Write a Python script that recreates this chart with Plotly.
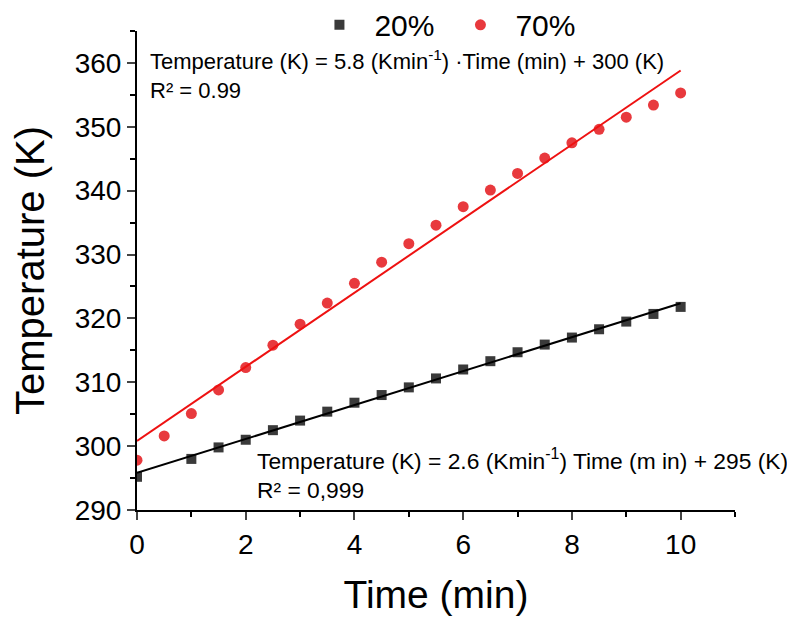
import numpy as np
import plotly.graph_objects as go

# ---- data ----
time_20 = [0, 1, 1.5, 2, 2.5, 3, 3.5, 4, 4.5, 5, 5.5, 6, 6.5, 7, 7.5, 8, 8.5, 9, 9.5, 10]
temp_20 = [295.2, 298.0, 299.8, 301.0, 302.5, 304.0, 305.4, 306.8, 308.0, 309.2,
           310.6, 312.0, 313.3, 314.7, 315.9, 317.0, 318.3, 319.5, 320.7, 321.8]

time_70 = [0, 0.5, 1, 1.5, 2, 2.5, 3, 3.5, 4, 4.5, 5, 5.5, 6, 6.5, 7, 7.5, 8, 8.5, 9, 9.5, 10]
temp_70 = [297.8, 301.6, 305.1, 308.8, 312.3, 315.8, 319.1, 322.4, 325.5, 328.8, 331.7,
           334.6, 337.5, 340.1, 342.7, 345.1, 347.5, 349.6, 351.5, 353.4, 355.3]

series_names = ["20%", "70%"]
x_ticks = [0, 2, 4, 6, 8, 10]
y_ticks = [290, 300, 310, 320, 330, 340, 350, 360]

eq_70 = "Temperature (K) = 5.8 (Kmin<sup>-1</sup>) \u00b7Time (min) + 300 (K)<br>R\u00b2 = 0.99"
eq_20 = "Temperature (K) = 2.6 (Kmin<sup>-1</sup>) Time (m in) + 295 (K)<br>R\u00b2 = 0,999"

# linear fits computed from the data
fit_x = [0, 10]
p20 = np.polyfit(time_20, temp_20, 1)
p70 = np.polyfit(time_70, temp_70, 1)
fit_20 = list(np.polyval(p20, fit_x))
fit_70 = list(np.polyval(p70, fit_x))

FONT = "Liberation Sans, Arial, sans-serif"

BLACK_M = "#3a3a3a"
RED_M = "#e8393d"

fig = go.Figure()
fig.add_trace(go.Scatter(x=time_20, y=temp_20, mode="markers", name=series_names[0],
                         marker=dict(symbol="square", size=10, color=BLACK_M)))
fig.add_trace(go.Scatter(x=time_70, y=temp_70, mode="markers", name=series_names[1],
                         marker=dict(symbol="circle", size=11, color=RED_M)))
fig.add_trace(go.Scatter(x=fit_x, y=fit_20, mode="lines", showlegend=False,
                         line=dict(color="#000000", width=2)))
fig.add_trace(go.Scatter(x=fit_x, y=fit_70, mode="lines", showlegend=False,
                         line=dict(color="#ee1111", width=2)))

fig.add_annotation(text=eq_70, xref="paper", yref="paper", x=0.0184, y=0.972,
                   xanchor="left", yanchor="top", align="left", showarrow=False,
                   font=dict(family=FONT, size=22, color="#000000"))
fig.add_annotation(text=eq_20, xref="paper", yref="paper", x=0.198, y=0.14,
                   xanchor="left", yanchor="top", align="left", showarrow=False,
                   font=dict(family=FONT, size=22.8, color="#000000"))

fig.update_layout(
    width=787, height=609,
    margin=dict(l=129, r=60, t=23, b=107, autoexpand=False),
    paper_bgcolor="white", plot_bgcolor="white",
    font=dict(family=FONT, color="#000000"),
    legend=dict(orientation="h", x=0.28, y=1.013, xanchor="left", yanchor="middle",
                font=dict(family=FONT, size=30), itemwidth=60, entrywidth=66,
                bgcolor="rgba(0,0,0,0)"),
    xaxis=dict(range=[0, 11], tickvals=x_ticks, ticks="outside", ticklen=8, tickwidth=2,
               showline=True, linewidth=2, linecolor="black", showgrid=False, zeroline=False,
               automargin=False,
               tickfont=dict(family=FONT, size=28),
               minor=dict(dtick=1, ticks="outside", ticklen=5, tickwidth=2, tickcolor="black"),
               title=dict(text="Time (min)", font=dict(family=FONT, size=39), standoff=22)),
    yaxis=dict(range=[290, 365], tickvals=y_ticks, ticks="outside", ticklen=8, tickwidth=2,
               showline=True, linewidth=2, linecolor="black", showgrid=False, zeroline=False,
               automargin=False,
               tickfont=dict(family=FONT, size=28),
               minor=dict(dtick=5, ticks="outside", ticklen=5, tickwidth=2, tickcolor="black"),
               title=dict(text="Temperature (K)", font=dict(family=FONT, size=40), standoff=34)),
)

fig.write_html("out.html")
